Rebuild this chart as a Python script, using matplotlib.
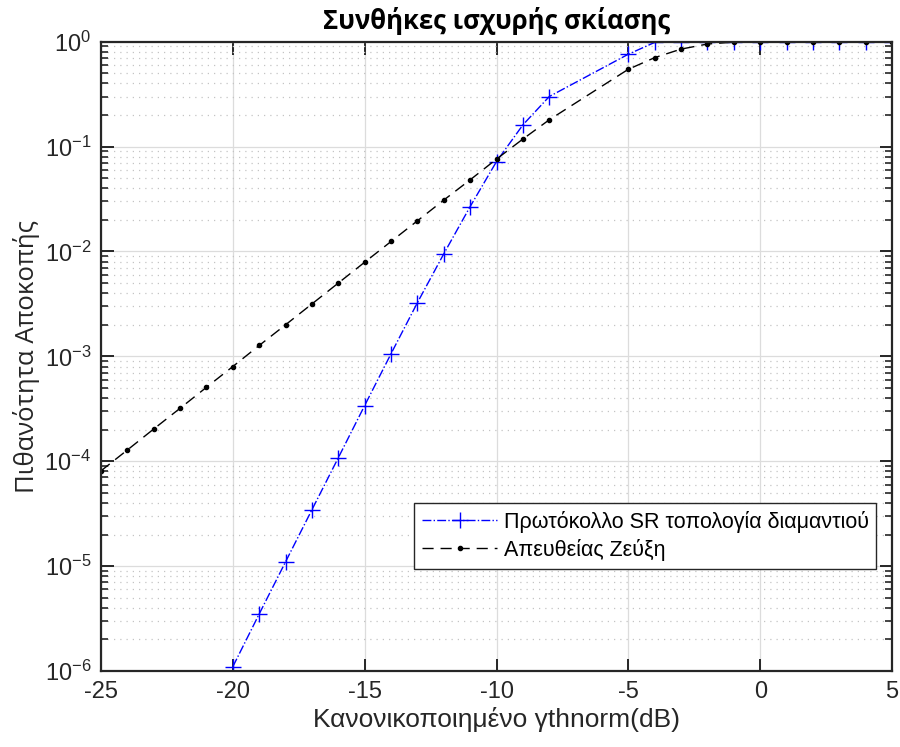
import numpy as np
import matplotlib
matplotlib.use("Agg")
import matplotlib.pyplot as plt
from matplotlib.ticker import LogLocator, FixedLocator, NullFormatter

plt.rcParams['font.family'] = ['Liberation Sans', 'DejaVu Sans']
plt.rcParams['mathtext.fontset'] = 'custom'
plt.rcParams['mathtext.rm'] = 'Liberation Sans'
plt.rcParams['axes.unicode_minus'] = False

# Data
x_sr = [-20, -19, -18, -17, -16, -15, -14, -13, -12, -11, -10, -9, -8,
        -5, -4, -3, -2, -1, 0, 1, 2, 3, 4, 5]
p_sr = [1.1e-6, 3.5e-6, 1.1e-5, 3.45e-5, 1.08e-4, 3.4e-4, 1.06e-3, 3.25e-3,
        9.5e-3, 0.0268, 0.072, 0.161, 0.30,
        0.76, 0.985, 1.0, 1.0, 1.0, 1.0, 1.0, 1.0, 1.0, 1.0, 1.0]
x_direct = [-25, -24, -23, -22, -21, -20, -19, -18, -17, -16, -15, -14, -13,
            -12, -11, -10, -9, -8, -5, -4, -3, -2, -1, 0, 1, 2, 3, 4, 5]
p_direct = [8.1e-5, 1.28e-4, 2.03e-4, 3.2e-4, 5.07e-4, 8.0e-4, 1.27e-3, 2.0e-3,
            3.16e-3, 5.0e-3, 7.9e-3, 1.245e-2, 1.96e-2, 3.09e-2, 4.82e-2, 0.076,
            0.118, 0.18, 0.546, 0.705, 0.85, 0.95, 0.99, 1.0, 1.0, 1.0, 1.0, 1.0, 1.0]
label_sr = 'Πρωτόκολλο SR τοπολογία διαμαντιού'
label_direct = 'Απευθείας Ζεύξη'
xticks = [-25, -20, -15, -10, -5, 0, 5]

fig = plt.figure(figsize=(9, 7.47), dpi=100)
ax = fig.add_axes([0.1122, 0.1017, 0.879, 0.8425])

ax.semilogy(x_sr, p_sr, color='#0000ff', linestyle='-.', marker='+',
            markersize=11, markeredgewidth=1.0, linewidth=1.0, label=label_sr)
ax.semilogy(x_direct, p_direct, color='black', linestyle=(0, (8, 5)), marker='.',
            markersize=6, linewidth=1.0, label=label_direct)

ax.set_xlim(-25, 5)
ax.set_ylim(1e-6, 1)
ax.xaxis.set_major_locator(FixedLocator(xticks))
ax.yaxis.set_major_locator(LogLocator(base=10, numticks=10))
ax.yaxis.set_minor_locator(LogLocator(base=10, subs=np.arange(2, 10), numticks=20))
ax.yaxis.set_minor_formatter(NullFormatter())

ax.grid(True, which='major', color='#dcdcdc', linestyle='-', linewidth=0.9)
ax.grid(True, which='minor', axis='y', color='#c4c4c4', linestyle=(0, (1, 4)), linewidth=0.9)
ax.set_axisbelow(True)

for s in ax.spines.values():
    s.set_linewidth(1.6)
    s.set_color('#262626')
ax.tick_params(which='both', direction='in', top=True, right=True, colors='#262626')
ax.tick_params(which='major', length=9, width=1.4, labelsize=17, pad=7)
ax.tick_params(which='minor', length=5, width=1.2, labelleft=False, labelbottom=False)

ax.set_title('Συνθήκες ισχυρής σκίασης', fontsize=18.5, fontweight='bold',
             family=['Open Sans', 'DejaVu Sans'], pad=9)
ax.set_xlabel('Κανονικοποιημένο γthnorm(dB)', fontsize=19, color='#262626', labelpad=3)
ax.set_ylabel('Πιθανότητα Αποκοπής', fontsize=18.5, color='#262626', labelpad=3,
              family=['Open Sans', 'DejaVu Sans'])

leg = ax.legend(loc='upper right', bbox_to_anchor=(0.98, 0.267), fontsize=15.5,
                frameon=True, fancybox=False, edgecolor='#262626', framealpha=1,
                handlelength=3.5, borderpad=0.35, labelspacing=0.3, handletextpad=0.3,
                borderaxespad=0)
leg.get_frame().set_linewidth(1.0)

fig.savefig('out.png', dpi=100)
